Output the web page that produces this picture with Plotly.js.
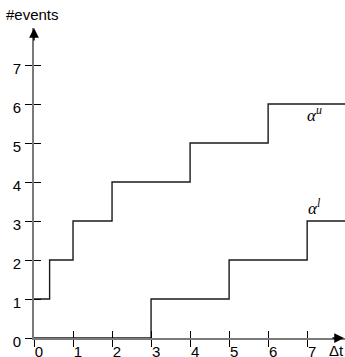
<!DOCTYPE html>
<html><head><meta charset="utf-8">
<script src="https://cdn.plot.ly/plotly-3.0.1.min.js"></script>
<style>html,body{margin:0;padding:0;background:#fff}#c{width:345px;height:357px}</style>
</head><body><div id="c"></div>
<script>
// step curves
const upperX = [0, 0.4, 1, 2, 4, 6, 8];
const upperY = [1, 2, 3, 4, 5, 6, 6];
const lowerX = [0, 3, 5, 7, 8];
const lowerY = [0, 1, 2, 3, 3];
const xTicks = [0, 1, 2, 3, 4, 5, 6, 7];
const yTicks = [0, 1, 2, 3, 4, 5, 6, 7];
const xTickLabels = ['0','1','2','3','4','5','6','7'];
const yTickLabels = ['0','1','2','3','4','5','6','7'];
const yTitle = '#events';
const xTitle = 'Δt';
const upperLabel = {x: 7.18, y: 5.74, text: '<i>α</i><sup><i>u</i></sup>'};
const lowerLabel = {x: 7.18, y: 3.36, text: '<i>α</i><sup><i>l</i></sup>'};

const XR = [0, 7.97], YR = [0, 7.95];
const lineStyle = {color: '#1a1a1a', width: 1.4, shape: 'hv'};
const traces = [
  {x: upperX, y: upperY, mode: 'lines', line: lineStyle, hoverinfo: 'skip'},
  {x: lowerX, y: lowerY, mode: 'lines', line: lineStyle, hoverinfo: 'skip'},
  {x: [], y: [], xaxis: 'x2', yaxis: 'y2', mode: 'lines'}
];
const font = {family: 'Liberation Sans, Arial, sans-serif', size: 15, color: '#000'};
const axBase = {showgrid: false, zeroline: false, fixedrange: true, tickmode: 'array',
  ticklen: 7, tickwidth: 1, tickcolor: '#000', tickfont: font};
const layout = {
  width: 345, height: 357, margin: {l: 34, r: 0, t: 28, b: 19},
  paper_bgcolor: '#fff', plot_bgcolor: '#fff', showlegend: false, font: font,
  xaxis: Object.assign({}, axBase, {range: XR, tickvals: xTicks, ticktext: xTickLabels,
    ticks: 'outside', showline: true, linecolor: '#7a7a7a', linewidth: 2, ticklabelshift: 5, ticklabelstandoff: -8}),
  yaxis: Object.assign({}, axBase, {range: YR, tickvals: yTicks, ticktext: yTickLabels,
    ticks: 'outside', showline: true, linecolor: '#7a7a7a', linewidth: 2, ticklabelshift: 4, ticklabelstandoff: 1}),
  xaxis2: Object.assign({}, axBase, {range: XR, tickvals: xTicks, overlaying: 'x', anchor: 'y2', side: 'bottom',
    ticks: 'inside', showticklabels: false, showline: false}),
  yaxis2: Object.assign({}, axBase, {range: YR, tickvals: yTicks, overlaying: 'y', anchor: 'x2', side: 'left',
    ticks: 'inside', showticklabels: false, showline: false}),
  annotations: [
    {xref: 'x', yref: 'paper', x: 0, y: 1, xanchor: 'center', yanchor: 'bottom', yshift: 3, xshift: -2,
     text: yTitle, showarrow: false, font: font},
    {xref: 'x', yref: 'paper', x: 7.76, y: 0, xanchor: 'center', yanchor: 'top', yshift: -2,
     text: xTitle, showarrow: false, font: font},
    {xref: 'x', yref: 'y', x: upperLabel.x, y: upperLabel.y, text: upperLabel.text, showarrow: false,
     font: {family: 'Liberation Serif, serif', size: 17, color: '#000'}},
    {xref: 'x', yref: 'y', x: lowerLabel.x, y: lowerLabel.y, text: lowerLabel.text, showarrow: false,
     font: {family: 'Liberation Serif, serif', size: 17, color: '#000'}},
    {xref: 'paper', yref: 'paper', x: 1, y: 0, ax: -14, ay: 0, text: '', showarrow: true,
     arrowhead: 2, arrowsize: 1.3, arrowwidth: 1.5, arrowcolor: '#000'},
    {xref: 'paper', yref: 'paper', x: 0, y: 1, ax: 0, ay: 14, text: '', showarrow: true,
     arrowhead: 2, arrowsize: 1.3, arrowwidth: 1.5, arrowcolor: '#000'}
  ]
};
Plotly.newPlot('c', traces, layout, {staticPlot: true, displayModeBar: false});
</script></body></html>
